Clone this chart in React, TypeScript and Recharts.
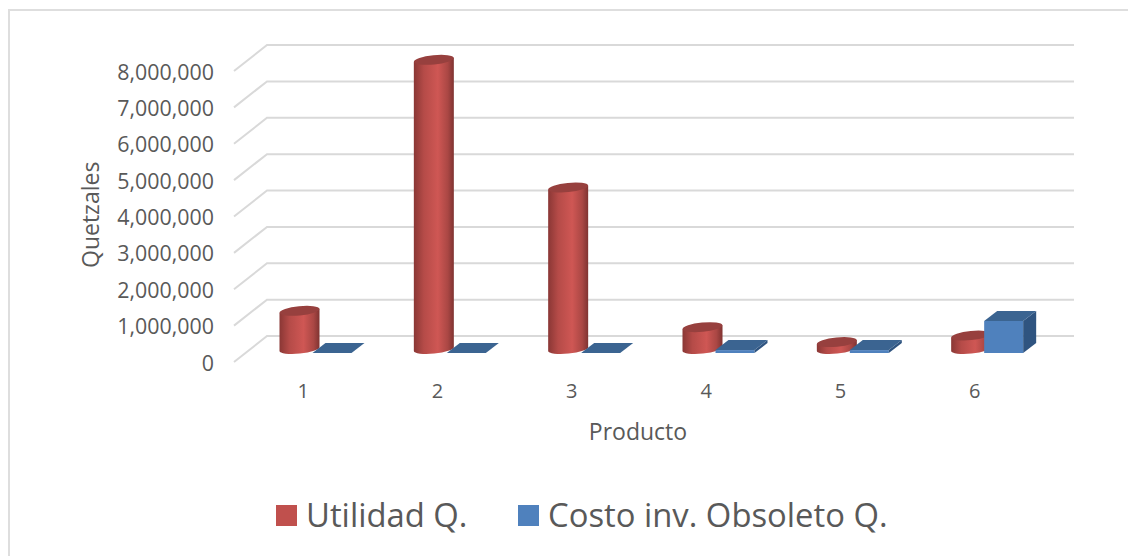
import React from "react";
import { Bar, BarChart, CartesianGrid, Legend, XAxis, YAxis } from "recharts";

const CATEGORIES = ["1", "2", "3", "4", "5", "6"];
const UTILIDAD = [1050000, 7950000, 4440000, 600000, 190000, 370000];
const COSTO_OBSOLETO = [0, 0, 0, 80000, 80000, 880000];
const Y_TICKS = [0, 1000000, 2000000, 3000000, 4000000, 5000000, 6000000, 7000000, 8000000];
const UTILIDAD_NAME = "Utilidad Q.";
const COSTO_NAME = "Costo inv. Obsoleto Q.";

const rows = CATEGORIES.map((producto, i) => ({
  producto,
  utilidad: UTILIDAD[i],
  costo: COSTO_OBSOLETO[i],
}));

const FONT = "'Open Sans', sans-serif";
const TEXT = "#595959";
const DEPTH_X = 13;
const DEPTH_Y = 10;
const CYLINDER_SHIFT = 13.5;
const CUBOID_SHIFT = 12.5;

// Floor-and-wall gridline: runs along the side wall, then across the back wall.
function Grid3D(props: any) {
  const { x1, x2, y1 } = props;
  const d = `M${x1 - 1},${y1 + 9} L${x1 + 32},${y1 - 17} L${x2 + 33},${y1 - 17}`;
  return <path d={d} fill="none" stroke="#d9d9d9" strokeWidth={2} />;
}

// Slightly tilted cylinder: the left edge drops 4px below the right edge.
function Cylinder(props: any) {
  const { x, y, width, height } = props;
  const left = x + CYLINDER_SHIFT;
  const w = width + 1;
  const cx = left + w / 2;
  const rx = w / 2;
  const ry = 4.6;
  const tilt = 4;
  const baseLeft = y + height - 2;
  const topLeft = y - 2;
  const side = `M${left},${topLeft} L${left},${baseLeft} A${rx},${ry} -5.7 0 0 ${left + w},${baseLeft - tilt} L${left + w},${topLeft - tilt} Z`;
  const topCy = topLeft - tilt / 2;
  return (
    <g>
      <path d={side} fill="url(#cylinderBody)" />
      <ellipse
        cx={cx}
        cy={topCy}
        rx={rx}
        ry={ry}
        transform={`rotate(-5.7 ${cx} ${topCy})`}
        fill="#97403e"
      />
    </g>
  );
}

function Cuboid(props: any) {
  const { x, y, width, height } = props;
  const left = x + CUBOID_SHIFT;
  const right = left + width;
  const bottom = y + height;
  const top = `M${left},${y} L${left + DEPTH_X},${y - DEPTH_Y} L${right + DEPTH_X},${y - DEPTH_Y} L${right},${y} Z`;
  const side = `M${right},${y} L${right + DEPTH_X},${y - DEPTH_Y} L${right + DEPTH_X},${bottom - DEPTH_Y} L${right},${bottom} Z`;
  return (
    <g>
      <rect x={left} y={y} width={width} height={height} fill="#4f81bd" />
      <path d={side} fill="#2f5480" />
      <path d={top} fill="#3b6491" />
    </g>
  );
}

function LegendRow() {
  const entries = [
    { label: UTILIDAD_NAME, color: "#c0504d", swatchX: 276, textX: 306 },
    { label: COSTO_NAME, color: "#4f81bd", swatchX: 518, textX: 548 },
  ];
  return (
    <div style={{ position: "relative", width: 1137, height: 50 }}>
      {entries.map((e) => (
        <React.Fragment key={e.label}>
          <span
            style={{
              position: "absolute",
              left: e.swatchX,
              top: 9,
              width: 21,
              height: 21,
              background: e.color,
            }}
          />
          <span
            style={{
              position: "absolute",
              left: e.textX,
              top: -1,
              lineHeight: "40px",
              fontSize: 32.8,
              fontFamily: FONT,
              color: TEXT,
              whiteSpace: "nowrap",
            }}
          >
            {e.label}
          </span>
        </React.Fragment>
      ))}
    </div>
  );
}

export default function App() {
  return (
    <div style={{ position: "fixed", left: 0, top: 0, width: 1137, height: 556, background: "#fff" }}>
      <div
        style={{
          position: "absolute",
          left: 8,
          top: 9,
          width: 1118,
          height: 547,
          borderLeft: "2px solid #dedede",
          borderTop: "2px solid #dedede",
        }}
      />
      <BarChart
        width={1137}
        height={556}
        data={rows}
        margin={{ top: 62, right: 96, bottom: 53, left: 85 }}
        barSize={39}
        barGap={-5}
        style={{ position: "absolute", left: 0, top: 0 }}
      >
        <defs>
          <linearGradient id="cylinderBody" x1="0" y1="0" x2="1" y2="0">
            <stop offset="0" stopColor="#8a3735" />
            <stop offset="0.25" stopColor="#b54b48" />
            <stop offset="0.6" stopColor="#cf5754" />
            <stop offset="0.85" stopColor="#aa4744" />
            <stop offset="1" stopColor="#7f3331" />
          </linearGradient>
        </defs>
        <CartesianGrid vertical={false} horizontal={(p: any) => <Grid3D key={p.key} {...p} />} />
        <XAxis
          dataKey="producto"
          axisLine={false}
          tickLine={false}
          tickMargin={25}
          tick={{ fill: TEXT, fontSize: 20, fontFamily: FONT, dx: 1 }}
          label={{
            value: "Producto",
            position: "insideTop",
            dy: 66,
            fill: TEXT,
            fontSize: 23,
            fontFamily: FONT,
          }}
          height={100}
        />
        <YAxis
          domain={[0, 8000000]}
          ticks={Y_TICKS}
          interval={0}
          axisLine={false}
          tickLine={false}
          width={150}
          tickMargin={15}
          tickFormatter={(v: number) => v.toLocaleString("en-US")}
          tick={{ fill: TEXT, fontSize: 21.4, fontFamily: FONT, dy: 10 }}
          label={{
            value: "Quetzales",
            angle: -90,
            position: "insideLeft",
            dx: 1,
            dy: 60.5,
            fill: TEXT,
            fontSize: 23,
            fontFamily: FONT,
          }}
        />
        <Bar dataKey="utilidad" name={UTILIDAD_NAME} fill="#c0504d" shape={Cylinder} isAnimationActive={false} />
        <Bar dataKey="costo" name={COSTO_NAME} fill="#4f81bd" shape={Cuboid} isAnimationActive={false} />
        <Legend
          content={() => <LegendRow />}
          wrapperStyle={{ position: "absolute", left: 0, top: 496, width: 1137 }}
        />
      </BarChart>
    </div>
  );
}
